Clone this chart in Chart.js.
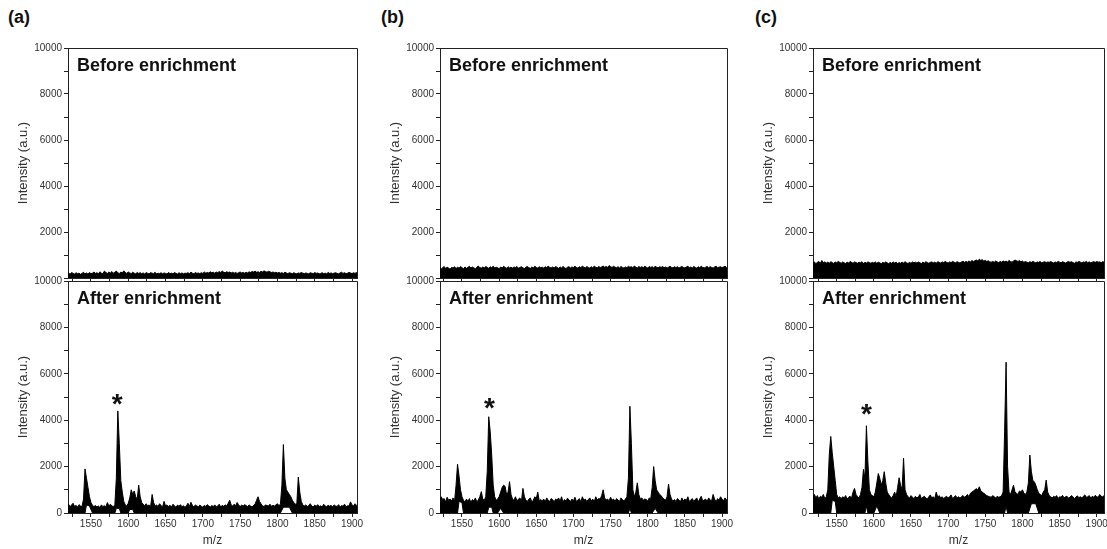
<!DOCTYPE html>
<html><head><meta charset="utf-8">
<script src="https://cdn.jsdelivr.net/npm/chart.js@4.4.0/dist/chart.umd.min.js"></script>
<style>
html,body{margin:0;padding:0;background:#fff;width:1107px;height:549px;overflow:hidden;position:relative;font-family:"Liberation Sans",Arial,sans-serif;}
canvas{position:absolute;}
.lbl{position:absolute;font-weight:bold;font-size:18px;line-height:20px;color:#111;}
</style></head><body>
<div class="lbl" style="left:8px;top:7px">(a)</div>
<div class="lbl" style="left:381px;top:7px">(b)</div>
<div class="lbl" style="left:755px;top:7px">(c)</div>
<script>
// ---------- DATA ----------
const mz = [
1518,1520,1522,1524,1526,1528,1530,1532,1534,1536,
1538,1540,1542,1544,1546,1548,1550,1552,1554,1556,
1558,1560,1562,1564,1566,1568,1570,1572,1574,1576,
1578,1580,1582,1584,1586,1588,1590,1592,1594,1596,
1598,1600,1602,1604,1606,1608,1610,1612,1614,1616,
1618,1620,1622,1624,1626,1628,1630,1632,1634,1636,
1638,1640,1642,1644,1646,1648,1650,1652,1654,1656,
1658,1660,1662,1664,1666,1668,1670,1672,1674,1676,
1678,1680,1682,1684,1686,1688,1690,1692,1694,1696,
1698,1700,1702,1704,1706,1708,1710,1712,1714,1716,
1718,1720,1722,1724,1726,1728,1730,1732,1734,1736,
1738,1740,1742,1744,1746,1748,1750,1752,1754,1756,
1758,1760,1762,1764,1766,1768,1770,1772,1774,1776,
1778,1780,1782,1784,1786,1788,1790,1792,1794,1796,
1798,1800,1802,1804,1806,1808,1810,1812,1814,1816,
1818,1820,1822,1824,1826,1828,1830,1832,1834,1836,
1838,1840,1842,1844,1846,1848,1850,1852,1854,1856,
1858,1860,1862,1864,1866,1868,1870,1872,1874,1876,
1878,1880,1882,1884,1886,1888,1890,1892,1894,1896,
1898,1900,1902,1904,1906,1908,1910];

// Before enrichment (upper envelope of the noise band)
const beforeA = [
180,220,160,240,200,170,230,190,210,160,
200,250,180,220,170,240,190,210,260,200,
230,180,270,210,190,300,240,200,260,220,
280,210,250,300,230,190,260,220,310,240,
200,260,220,190,250,210,180,240,200,230,
190,220,170,240,200,180,230,210,190,250,
170,210,190,230,180,220,200,170,240,190,
210,180,240,200,170,230,190,220,180,210,
200,230,190,250,210,180,240,200,220,190,
230,200,260,210,240,220,270,230,250,210,
260,230,280,240,300,250,230,270,240,260,
220,250,210,240,200,230,260,220,240,210,
250,220,270,240,280,260,300,250,270,240,
290,260,310,280,250,290,270,240,260,230,
250,220,240,210,230,200,250,220,190,230,
210,190,230,200,180,220,200,240,210,190,
220,200,180,230,210,190,240,200,220,180,
200,230,190,210,180,240,200,220,190,210,
230,200,180,220,250,200,230,190,210,240,
220,190,230,200,240,210,220];
const beforeB = [
420,480,390,450,500,410,470,430,380,460,
440,490,410,470,430,500,450,400,480,420,
460,510,430,480,440,400,470,520,450,430,
480,440,500,460,420,490,450,510,430,470,
450,400,480,440,510,460,420,490,440,470,
430,480,450,500,420,460,490,440,410,470,
500,450,420,480,440,510,460,430,490,450,
470,430,490,450,520,460,440,480,430,500,
460,420,480,440,500,450,410,470,490,440,
480,450,510,460,430,490,450,520,470,440,
500,460,430,490,450,510,470,440,500,460,
480,520,470,500,460,540,490,460,510,470,
450,490,440,500,460,430,480,450,510,470,
490,450,520,470,440,500,460,490,450,510,
470,430,500,460,490,440,510,470,450,490,
460,500,450,480,430,470,510,460,440,490,
450,490,430,470,500,460,440,480,510,450,
480,440,500,460,430,490,450,510,460,440,
470,500,450,490,460,430,480,510,450,470,
490,450,480,510,460,440,480];
const beforeC = [
650,700,620,680,720,640,760,670,700,650,
690,640,710,670,630,700,660,720,680,640,
700,660,630,690,650,720,680,640,700,670,
640,690,660,710,630,680,650,700,670,640,
680,650,700,640,690,660,620,680,650,700,
660,620,680,640,700,650,690,630,670,640,
690,650,710,660,630,680,640,700,660,690,
650,700,660,630,690,650,710,670,640,680,
700,660,690,640,710,680,650,700,670,720,
680,650,700,670,720,690,660,710,680,650,
700,730,680,720,690,740,700,760,720,750,
780,740,820,760,800,730,770,720,750,700,
690,720,680,740,700,670,720,690,740,710,
730,700,760,720,690,740,780,750,720,760,
700,740,680,720,690,660,710,680,720,690,
660,700,680,720,650,690,710,670,700,680,
720,680,650,700,670,720,690,660,710,680,
650,690,720,680,710,670,640,700,680,720,
690,660,700,680,720,670,700,660,690,710,
680,720,690,700,670,710,690];

// After enrichment (upper envelope)
const afterA = [
300,380,260,350,420,280,330,250,360,300,
280,600,1900,1500,1100,700,450,330,280,320,
260,300,240,350,280,310,260,450,300,380,
300,280,350,1500,4400,3000,1400,900,500,350,
300,420,650,1000,800,950,700,600,1200,700,
450,380,320,400,300,350,280,800,450,300,
350,280,400,320,260,500,300,350,280,330,
260,380,300,250,340,290,360,270,310,250,
300,420,280,460,330,260,350,300,270,340,
290,250,330,280,360,300,260,320,280,350,
270,300,380,260,330,290,350,310,420,550,
350,300,380,320,450,350,280,340,300,360,
320,280,350,300,260,330,380,550,700,500,
400,300,280,350,320,300,380,290,330,300,
350,400,320,380,1200,2950,1500,1000,900,800,
700,550,450,380,400,1550,900,500,350,300,
350,280,320,400,300,260,340,290,360,280,
310,260,380,300,270,340,290,330,260,350,
300,280,360,250,320,290,380,270,310,300,
480,350,300,400,330,280,300];
const afterB = [
650,500,700,580,620,480,680,550,600,520,
650,500,1200,2100,1600,1000,700,550,480,600,
500,620,450,580,520,650,480,560,700,920,
600,550,700,1800,4150,3500,2500,1200,700,550,
600,700,900,1100,1200,1150,800,900,1350,800,
600,550,700,520,600,650,500,1060,700,550,
500,600,650,480,550,700,620,900,520,580,
520,600,480,650,550,500,620,580,470,600,
550,650,500,700,480,580,520,640,560,500,
600,520,680,500,560,620,480,700,550,600,
500,580,650,520,600,480,700,560,620,600,
750,1000,650,560,600,520,680,550,600,500,
620,560,500,650,580,520,600,700,1500,4600,
3000,1000,700,900,1300,800,600,650,550,600,
580,520,650,600,1100,2000,1400,1000,900,800,
750,650,600,550,700,1250,800,600,520,580,
500,620,560,480,650,520,600,540,700,500,
560,620,500,580,650,480,600,720,520,560,
600,500,650,560,520,800,600,480,620,550,
700,600,520,650,560,600,500];
const afterC = [
700,800,650,750,600,720,680,800,620,700,
1000,2500,3300,2600,2000,1400,800,650,700,620,
700,650,750,600,680,720,650,900,1060,800,
700,650,800,1100,1880,1500,3760,2200,1000,800,
750,700,900,1300,1700,1500,1200,1400,1780,1300,
900,800,700,650,750,900,700,1100,1520,1200,
1000,2360,1000,800,700,650,750,680,620,720,
650,700,800,620,680,720,650,600,700,780,
650,700,620,900,680,750,650,700,620,680,
720,650,700,780,620,680,750,650,700,640,
700,750,680,720,800,700,850,900,950,1000,
1050,1000,1130,950,900,850,800,750,720,700,
680,750,700,650,720,680,700,750,900,3500,
6500,2000,900,800,1000,1200,900,850,800,950,
900,1000,850,800,900,1300,2500,1800,1400,1350,
1200,1000,850,800,750,900,1000,1420,900,750,
700,650,720,680,750,620,700,680,760,650,
700,720,640,680,750,700,620,690,740,660,
700,650,720,780,680,700,750,640,720,680,
760,700,680,800,720,700,750];

// Lower envelope of the after-enrichment traces (white notches)
const loAmz = [1518,1542,1544,1548,1552,1582,1584,1588,1590,1600,1602,1606,1608,1804,1808,1816,1820,1910];
const loAval = [0,0,350,300,0,0,200,200,0,0,150,150,0,0,250,250,0,0];
const loBmz = [1518,1544,1546,1550,1552,1584,1586,1590,1592,1598,1602,1606,1774,1776,1778,1806,1810,1814,1910];
const loBval = [0,0,500,450,0,0,250,250,0,0,200,0,0,200,0,0,200,0,0];
const loCmz = [1518,1542,1544,1548,1550,1588,1590,1592,1600,1604,1608,1776,1778,1780,1808,1812,1818,1822,1910];
const loCval = [0,0,550,500,0,0,300,0,0,300,0,0,300,0,0,400,400,0,0];
const flatMz = [1518,1910];
const flatVal = [0,0];

// Asterisk annotations (m/z, intensity)
const starMz = [1585, 1587, 1590];
const starVal = [5000, 4800, 4570];

// Axis ranges per panel
const xMin = [1519.2, 1520.4, 1518.1];
const xMax = [1906.7, 1906.7, 1909.8];
const yMin = 0, yMax = 10000;
const topTitle = 'Before enrichment';
const botTitle = 'After enrichment';
const yTitle = 'Intensity (a.u.)';
const xTitle = 'm/z';

// ---------- LAYOUT ----------
const FONT = '"Liberation Sans", Arial, sans-serif';
Chart.defaults.font.family = FONT;
const axisLeft = [68, 440, 813];
const axisRight = [357, 727, 1104];
const YW = 52, PADT = 10, PADR = 10;
const TOP_Y = 48, MID_Y = 281, BOT_Y = 513;
const TICKC = '#333', AXC = '#222';

function pts(xs, ys){ return xs.map((x,i)=>({x:x, y:ys[i]})); }

function addCanvas(left, top, w, h){
  const c = document.createElement('canvas');
  c.width = w; c.height = h;
  c.style.left = left+'px'; c.style.top = top+'px';
  c.style.width = w+'px'; c.style.height = h+'px';
  document.body.appendChild(c);
  return c;
}

function makeChart(p, isTop, hi, loX, loY, label, star){
  const L = axisLeft[p], R = axisRight[p];
  const areaH = isTop ? (MID_Y - TOP_Y) : (BOT_Y - MID_Y);
  const XH = isTop ? 5 : 35;
  const w = YW + (R - L) + PADR;
  const h = PADT + areaH + XH;
  const top = (isTop ? TOP_Y : MID_Y) - PADT;
  const cv = addCanvas(L - YW, top, w, h);
  const deco = {
    id: 'deco'+p+(isTop?'t':'b'),
    afterDraw(chart){
      const {ctx, chartArea:a, scales} = chart;
      ctx.save();
      ctx.strokeStyle = AXC; ctx.lineWidth = 1;
      ctx.beginPath();
      ctx.moveTo(Math.round(a.left), Math.round(a.top)+0.5);
      ctx.lineTo(Math.round(a.right)+0.5, Math.round(a.top)+0.5);
      ctx.lineTo(Math.round(a.right)+0.5, Math.round(a.bottom));
      ctx.stroke();
      ctx.fillStyle = '#111';
      ctx.font = 'bold 18px ' + FONT;
      ctx.textAlign = 'left'; ctx.textBaseline = 'middle';
      ctx.fillText(label, a.left + 9, a.top + 18);
      if (star !== null){
        const sx = scales.x.getPixelForValue(starMz[star]);
        const sy = scales.y.getPixelForValue(starVal[star]);
        ctx.font = 'bold 28px ' + FONT;
        ctx.textAlign = 'center'; ctx.textBaseline = 'alphabetic';
        ctx.fillText('*', sx, sy + 0.56*28);
      }
      ctx.restore();
    }
  };
  return new Chart(cv, {
    type: 'line',
    data: { datasets: [
      { data: pts(loX, loY), borderColor:'#000', borderWidth:1, pointRadius:0, fill:false, tension:0 },
      { data: pts(mz, hi), borderColor:'#000', backgroundColor:'#000', borderWidth:1, pointRadius:0, fill:'-1', tension:0 }
    ]},
    options: {
      responsive:false, animation:false, devicePixelRatio:1,
      layout:{ padding:{ top:PADT, right:PADR, left:0, bottom:0 } },
      plugins:{ legend:{display:false}, tooltip:{enabled:false}, title:{display:false} },
      scales:{
        x:{ type:'linear', min:xMin[p], max:xMax[p],
          afterFit:(s)=>{ s.height = XH; },
          ticks:{ display:!isTop, stepSize:25, autoSkip:false, includeBounds:false, maxRotation:0, minRotation:0,
            callback:(v)=> (v % 50 === 0 ? String(v) : ''), font:{size:10, family:FONT}, color:TICKC, padding:1 },
          grid:{ drawOnChartArea:false, drawTicks:true, tickLength:4, tickColor:AXC },
          border:{ display:true, color:AXC, width:1 },
          title:{ display:!isTop, text:xTitle, font:{size:12, family:FONT}, color:TICKC, padding:0 } },
        y:{ min:yMin, max:yMax,
          afterFit:(s)=>{ s.width = YW; },
          ticks:{ stepSize:1000, autoSkip:false, includeBounds:false,
            callback:(v)=> ((v % 2000 === 0 && !(isTop && v === 0)) ? String(v) : ''),
            font:{size:10, family:FONT}, color:TICKC, padding:2 },
          grid:{ drawOnChartArea:false, drawTicks:true, tickLength:4, tickColor:AXC },
          border:{ display:true, color:AXC, width:1 },
          title:{ display:true, text:yTitle, font:{size:13, family:FONT}, color:TICKC, padding:0 } }
      }
    },
    plugins:[deco]
  });
}

const befores = [beforeA, beforeB, beforeC];
const afters = [afterA, afterB, afterC];
const loMz = [loAmz, loBmz, loCmz];
const loVal = [loAval, loBval, loCval];
for (let p = 0; p < 3; p++){
  makeChart(p, true, befores[p], flatMz, flatVal, topTitle, null);
  makeChart(p, false, afters[p], loMz[p], loVal[p], botTitle, p);
}
</script>
</body></html>
